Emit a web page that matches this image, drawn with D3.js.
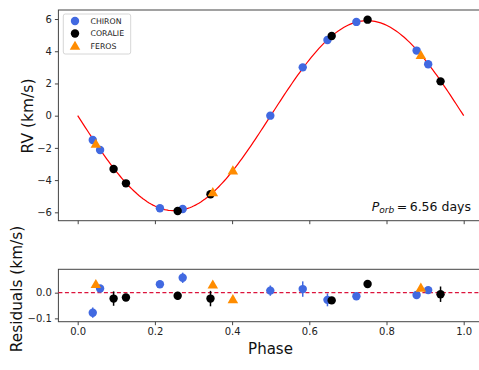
<!DOCTYPE html>
<html>
<head>
<meta charset="utf-8">
<script src="https://cdn.jsdelivr.net/npm/d3@7"></script>
<style>
  body { margin: 0; background: #fff; }
  svg { display: block; font-family: "DejaVu Sans", sans-serif; }
</style>
</head>
<body>
<svg id="chart" width="479" height="370"></svg>
<script>
// phase, RV (km/s), residual, residual error
const chironPhase = [0.039, 0.058, 0.213, 0.272, 0.499, 0.583, 0.647, 0.722, 0.878, 0.908];
const chironRV    = [-1.51, -2.13, -5.75, -5.79, 0.0, 3.0, 4.70, 5.82, 4.04, 3.19];
const chironRes   = [-0.078, 0.016, 0.033, 0.058, 0.008, 0.014, -0.028, -0.014, -0.009, 0.010];
const chironErr   = [0.020, 0.010, 0.010, 0.020, 0.020, 0.030, 0.025, 0.012, 0.008, 0.010];

const coraliePhase = [0.093, 0.125, 0.259, 0.344, 0.658, 0.751, 0.940];
const coralieRV    = [-3.31, -4.20, -5.92, -4.88, 4.95, 5.96, 2.13];
const coralieRes   = [-0.023, -0.019, -0.012, -0.023, -0.030, 0.034, -0.006];
const coralieErr   = [0.028, 0.008, 0.015, 0.030, 0.008, 0.008, 0.030];

const ferosPhase = [0.047, 0.350, 0.402, 0.889];
const ferosRV    = [-1.76, -4.76, -3.41, 3.75];
const ferosRes   = [0.033, 0.031, -0.026, 0.019];

// orbital model: circular orbit, semi-amplitude K
const K = 5.9;
const modelPhase = d3.range(0, 1.0001, 0.005);

const xTicks = [0.0, 0.2, 0.4, 0.6, 0.8, 1.0];
const rvTicks = [-6, -4, -2, 0, 2, 4, 6];
const resTicks = [-0.1, 0.0];

const series = [
  { name: "CHIRON", color: "#4169E1", shape: "circle", phase: chironPhase, rv: chironRV, res: chironRes, err: chironErr },
  { name: "CORALIE", color: "#000000", shape: "circle", phase: coraliePhase, rv: coralieRV, res: coralieRes, err: coralieErr },
  { name: "FEROS", color: "#FF8C00", shape: "triangle", phase: ferosPhase, rv: ferosRV, res: ferosRes, err: null }
];

const svg = d3.select("#chart");
const left = 58.4, right = 483;
const top1 = { t: 10, b: 220.7 };
const top2 = { t: 269.3, b: 321.7 };

const x = d3.scaleLinear().domain([-0.05, 1.05]).range([left, right]);
const y = d3.scaleLinear().domain([-6.52, 6.56]).range([top1.b, top1.t]);
const yr = d3.scaleLinear().domain([-0.113, 0.091]).range([top2.b, top2.t]);

const minus = s => s.replace("-", "\u2212");

function frame(t, b) {
  svg.append("rect")
    .attr("x", left).attr("y", t)
    .attr("width", right - left).attr("height", b - t)
    .attr("fill", "none").attr("stroke", "#444").attr("stroke-width", 1);
}

// top panel axes
const gx1 = svg.append("g").attr("transform", `translate(0,${top1.b})`)
  .call(d3.axisBottom(x).tickValues(xTicks).tickSize(3.5).tickFormat(""));
const gy1 = svg.append("g").attr("transform", `translate(${left},0)`)
  .call(d3.axisLeft(y).tickValues(rvTicks).tickSize(3.5).tickPadding(3)
    .tickFormat(d => minus(String(d))));

// bottom panel axes
const gx2 = svg.append("g").attr("transform", `translate(0,${top2.b})`)
  .call(d3.axisBottom(x).tickValues(xTicks).tickSize(3.5).tickPadding(3)
    .tickFormat(d => d3.format(".1f")(d)));
const gy2 = svg.append("g").attr("transform", `translate(${left},0)`)
  .call(d3.axisLeft(yr).tickValues(resTicks).tickSize(3.5).tickPadding(3)
    .tickFormat(d => minus(d3.format(".1f")(d))));

[gx1, gy1, gx2, gy2].forEach(g => {
  g.select(".domain").remove();
  g.selectAll("line").attr("stroke", "#444");
  g.selectAll("text").attr("font-size", 10).attr("fill", "#222")
    .attr("font-family", "DejaVu Sans, sans-serif");
});

frame(top1.t, top1.b);
frame(top2.t, top2.b);

// model curve
const line = d3.line().x(d => x(d)).y(d => y(-K * Math.sin(2 * Math.PI * d)));
svg.append("path").datum(modelPhase)
  .attr("d", line).attr("fill", "none")
  .attr("stroke", "red").attr("stroke-width", 1.2);

// zero line in residuals
svg.append("line")
  .attr("x1", left).attr("x2", right)
  .attr("y1", yr(0)).attr("y2", yr(0))
  .attr("stroke", "#DC143C").attr("stroke-width", 1.2)
  .attr("stroke-dasharray", "4,2.5");

const tri = d3.symbol().type(d3.symbolTriangle).size(48);

function marker(g, s, cx, cy) {
  if (s.shape === "circle") {
    g.append("circle").attr("cx", cx).attr("cy", cy).attr("r", 4.2).attr("fill", s.color);
  } else {
    g.append("path").attr("d", tri())
      .attr("transform", `translate(${cx},${cy + 0.8})`).attr("fill", s.color);
  }
}

const pts = svg.append("g");
series.forEach(s => {
  s.phase.forEach((p, i) => marker(pts, s, x(p), y(s.rv[i])));
});

const rpts = svg.append("g");
series.forEach(s => {
  s.phase.forEach((p, i) => {
    if (s.err) {
      rpts.append("line")
        .attr("x1", x(p)).attr("x2", x(p))
        .attr("y1", yr(s.res[i] - s.err[i])).attr("y2", yr(s.res[i] + s.err[i]))
        .attr("stroke", s.color).attr("stroke-width", 1.5);
    }
    marker(rpts, s, x(p), yr(s.res[i]));
  });
});

// legend
const lg = svg.append("g");
lg.append("rect").attr("x", 63.3).attr("y", 14).attr("width", 67.4).attr("height", 40)
  .attr("rx", 2).attr("fill", "#fff").attr("fill-opacity", 0.8)
  .attr("stroke", "#ccc").attr("stroke-width", 0.8);
series.forEach((s, i) => {
  const cy = 21 + i * 12.5;
  marker(lg, s, 75, cy);
  lg.append("text").attr("x", 90.5).attr("y", cy).attr("dy", "0.35em")
    .attr("font-size", 7.8).attr("fill", "#222").text(s.name);
});

// annotation
const ann = svg.append("text").attr("x", 471).attr("y", 210.5)
  .attr("text-anchor", "end").attr("font-size", 12.5).attr("fill", "#111");
ann.append("tspan").attr("font-style", "italic").text("P");
ann.append("tspan").attr("font-style", "italic").attr("font-size", 9).attr("dy", 2.5).text("orb");
ann.append("tspan").attr("dy", -2.5).text("\u2009=\u20096.56 days");

// axis labels
svg.append("text").attr("transform", `translate(32.5,116) rotate(-90)`)
  .attr("text-anchor", "middle").attr("font-size", 15.5).attr("fill", "#111")
  .text("RV (km/s)");
svg.append("text").attr("transform", `translate(22,289) rotate(-90)`)
  .attr("text-anchor", "middle").attr("font-size", 15.3).attr("fill", "#111")
  .text("Residuals (km/s)");
svg.append("text").attr("x", 270.5).attr("y", 354)
  .attr("text-anchor", "middle").attr("font-size", 15).attr("fill", "#111")
  .text("Phase");
</script>
</body>
</html>
